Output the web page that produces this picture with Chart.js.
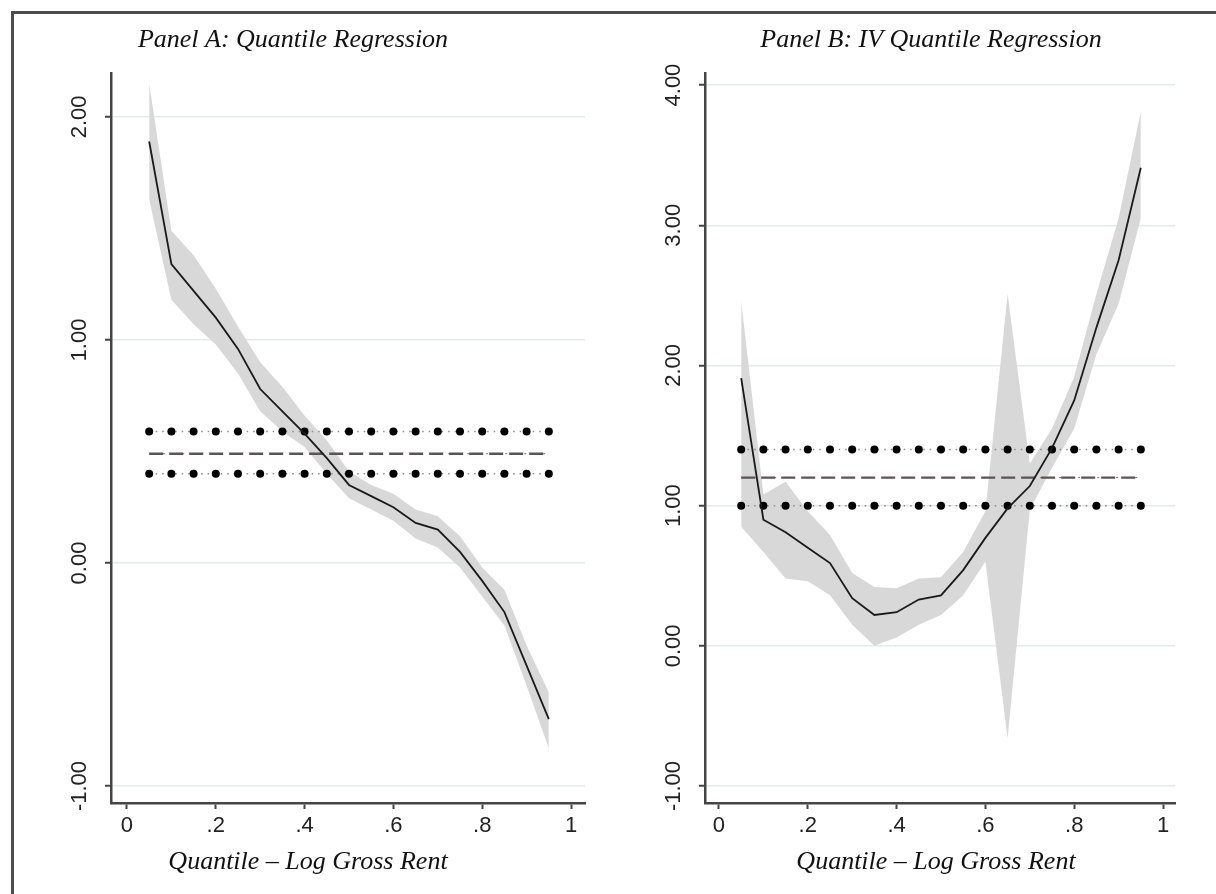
<!DOCTYPE html>
<html>
<head>
<meta charset="utf-8">
<title>Quantile regression estimates</title>
<script src="https://cdn.jsdelivr.net/npm/chart.js@4.4.0/dist/chart.umd.min.js"></script>
<style>
  html, body { margin: 0; background: #fff; overflow: hidden; }
  #frame {
    position: absolute; left: 11px; top: 11px; width: 1220px; height: 900px;
    border-left: 3px solid #4d4d4d; border-top: 3px solid #4d4d4d;
  }
  .panel { position: absolute; top: 0; width: 608px; height: 894px; }
  #panelA { left: 0; }
  #panelB { left: 608px; }
</style>
</head>
<body>
<div id="frame"></div>
<div class="panel" id="panelA"><canvas id="chartA" width="608" height="894"></canvas></div>
<div class="panel" id="panelB"><canvas id="chartB" width="608" height="894"></canvas></div>
<script>
// Quantiles at which the coefficients were estimated
const QUANTILES = [0.05, 0.10, 0.15, 0.20, 0.25, 0.30, 0.35, 0.40, 0.45, 0.50,
                   0.55, 0.60, 0.65, 0.70, 0.75, 0.80, 0.85, 0.90, 0.95];
const X_TICKS = [0, 0.2, 0.4, 0.6, 0.8, 1];

// Panel A: quantile regression coefficient and 95% band
const A_COEF  = [1.89, 1.34, 1.22, 1.10, 0.96, 0.78, 0.68, 0.58, 0.47, 0.35,
                 0.30, 0.25, 0.18, 0.15, 0.05, -0.08, -0.22, -0.46, -0.70];
const A_UPPER = [2.15, 1.49, 1.38, 1.23, 1.06, 0.90, 0.79, 0.66, 0.55, 0.41,
                 0.35, 0.31, 0.24, 0.21, 0.12, -0.02, -0.12, -0.37, -0.58];
const A_LOWER = [1.63, 1.18, 1.07, 0.98, 0.85, 0.68, 0.59, 0.52, 0.40, 0.29,
                 0.24, 0.19, 0.11, 0.07, -0.02, -0.15, -0.28, -0.55, -0.83];
// OLS estimate with its confidence limits (low, estimate, high)
const A_OLS = [0.40, 0.49, 0.59];
const A_Y_TICKS = [-1, 0, 1, 2];

// Panel B: IV quantile regression coefficient and 95% band
const B_COEF  = [1.91, 0.90, 0.81, 0.70, 0.59, 0.34, 0.22, 0.24, 0.33, 0.36,
                 0.54, 0.77, 0.98, 1.14, 1.41, 1.75, 2.27, 2.75, 3.41];
const B_UPPER = [2.46, 1.08, 1.17, 0.96, 0.79, 0.52, 0.42, 0.41, 0.48, 0.49,
                 0.67, 0.96, 2.51, 1.30, 1.55, 1.92, 2.51, 3.05, 3.81];
const B_LOWER = [0.85, 0.67, 0.48, 0.46, 0.36, 0.15, 0.00, 0.06, 0.15, 0.22,
                 0.36, 0.60, -0.66, 0.97, 1.27, 1.55, 2.08, 2.44, 3.05];
const B_OLS = [1.00, 1.20, 1.40];
const B_Y_TICKS = [-1, 0, 1, 2, 3, 4];

const X_TITLE = "Quantile \u2013 Log Gross Rent";

const BAND_COLOR = "#d8d8d8";
const AXIS_COLOR = "#444444";
const GRID_COLOR = "#e2ecec";
const TICK_FONT = { family: '"Liberation Sans", Arial, sans-serif', size: 22 };

Chart.defaults.font.family = '"Liberation Sans", Arial, sans-serif';

// Panel headings and x-axis caption, italic serif like the rest of the paper
const panelText = {
  id: "panelText",
  afterDraw(chart, args, opts) {
    const ctx = chart.ctx;
    ctx.save();
    ctx.font = 'italic 26px "Liberation Serif", "Times New Roman", serif';
    ctx.fillStyle = "#111";
    ctx.textAlign = "center";
    ctx.textBaseline = "middle";
    ctx.fillText(opts.title, opts.titleX, 40);
    ctx.fillText(opts.xTitle, opts.xTitleX, 862);
    ctx.restore();
  },
};

function points(values) {
  return QUANTILES.map((q, i) => ({ x: q, y: values[i] }));
}

function flatLine(value) {
  return QUANTILES.map((q) => ({ x: q, y: value }));
}

function buildDatasets(coef, upper, lower, ols) {
  const [olsLo, olsMid, olsHi] = ols;
  const dotted = (v) => ({
    data: flatLine(v),
    borderColor: "#8c8c8c",
    borderWidth: 1.5,
    borderDash: [1.5, 5],
    pointRadius: 4,
    pointBackgroundColor: "#000",
    pointBorderWidth: 0,
    order: 2,
  });
  return [
    // confidence band: upper edge filled down to the lower edge
    { data: points(upper), borderColor: "transparent", borderWidth: 0, pointRadius: 0,
      fill: "+1", backgroundColor: BAND_COLOR, order: 6 },
    { data: points(lower), borderColor: "transparent", borderWidth: 0, pointRadius: 0,
      fill: false, order: 6 },
    // OLS point estimate, dashed
    { data: flatLine(olsMid), borderColor: "#c04848", borderWidth: 1, borderDash: [2, 17],
      borderDashOffset: -14, pointRadius: 0, order: 4 },
    { data: flatLine(olsMid), borderColor: "#5a5454", borderWidth: 2.4, borderDash: [14, 6],
      pointRadius: 0, order: 3 },
    dotted(olsHi),
    dotted(olsLo),
    // quantile coefficient
    { data: points(coef), borderColor: "#1a1a1a", borderWidth: 1.8, pointRadius: 0, order: 1 },
  ];
}

function formatQuantile(v) {
  return Number.isInteger(v) ? String(v) : v.toFixed(1).replace(/^0/, "");
}

function renderPanel(canvasId, cfg) {
  new Chart(document.getElementById(canvasId), {
    type: "line",
    data: { datasets: buildDatasets(cfg.coef, cfg.upper, cfg.lower, cfg.ols) },
    options: {
      responsive: false,
      animation: false,
      layout: { padding: { left: 0, right: cfg.padRight, top: 73, bottom: 0 } },
      elements: { line: { tension: 0 } },
      plugins: {
        legend: { display: false },
        tooltip: { enabled: false },
        panelText: { title: cfg.title, titleX: cfg.titleX, xTitle: X_TITLE, xTitleX: cfg.xTitleX },
      },
      scales: {
        x: {
          type: "linear",
          min: cfg.xMin,
          max: cfg.xMax,
          afterBuildTicks: (scale) => { scale.ticks = X_TICKS.map((v) => ({ value: v })); },
          afterFit: (scale) => { scale.height = 91; },
          border: { color: AXIS_COLOR, width: 2.5 },
          grid: { drawOnChartArea: false, tickLength: 6, tickColor: AXIS_COLOR, tickWidth: 2 },
          ticks: { font: TICK_FONT, color: "#222", padding: 4, maxRotation: 0,
                   callback: (v) => formatQuantile(v) },
        },
        y: {
          type: "linear",
          min: cfg.yMin,
          max: cfg.yMax,
          afterBuildTicks: (scale) => { scale.ticks = cfg.yTicks.map((v) => ({ value: v })); },
          afterFit: (scale) => { scale.width = cfg.yWidth; },
          border: { color: AXIS_COLOR, width: 2.5 },
          grid: { color: GRID_COLOR, lineWidth: 1.5, tickLength: 6, tickColor: AXIS_COLOR, tickWidth: 2 },
          ticks: { font: TICK_FONT, color: "#222", padding: 0, minRotation: 90, maxRotation: 90,
                   crossAlign: "center", callback: (v) => v.toFixed(2) },
        },
      },
    },
    plugins: [panelText],
  });
}

renderPanel("chartA", {
  title: "Panel A: Quantile Regression",
  titleX: 293,
  xTitleX: 308,
  coef: A_COEF, upper: A_UPPER, lower: A_LOWER, ols: A_OLS,
  xMin: -0.036, xMax: 1.0315,
  yMin: -1.076, yMax: 2.197, yTicks: A_Y_TICKS,
  yWidth: 111, padRight: 23,
});

renderPanel("chartB", {
  title: "Panel B: IV Quantile Regression",
  titleX: 323,
  xTitleX: 328,
  coef: B_COEF, upper: B_UPPER, lower: B_LOWER, ols: B_OLS,
  xMin: -0.0315, xMax: 1.027,
  yMin: -1.121, yMax: 4.086, yTicks: B_Y_TICKS,
  yWidth: 97, padRight: 41,
});
</script>
</body>
</html>
